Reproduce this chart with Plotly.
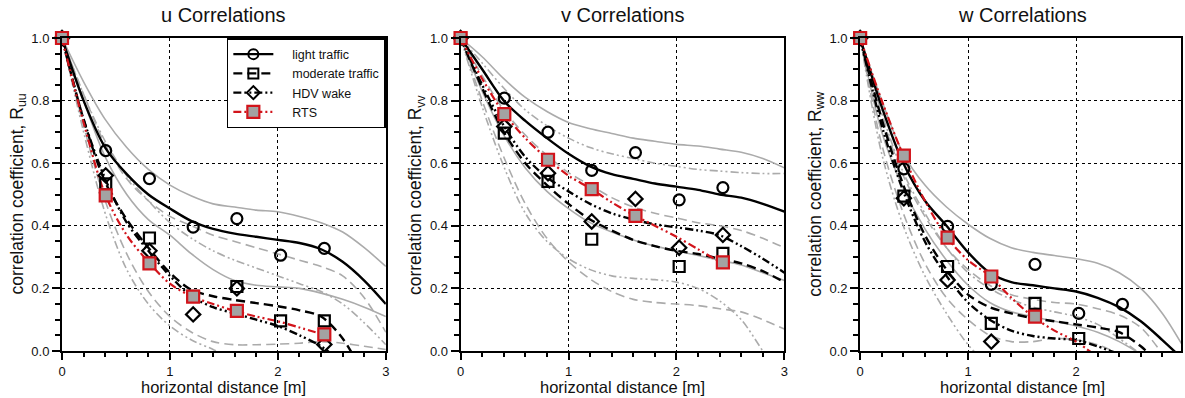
import plotly.graph_objects as go

# ---------------- data ----------------
x_fit = [0, 0.2, 0.4, 0.6, 0.8, 1.0, 1.2, 1.4, 1.6, 1.8, 2.0, 2.2, 2.4, 2.6, 2.8, 3.0]
x_pts = [0, 0.405, 0.81, 1.215, 1.62, 2.025, 2.43]

# u correlations
u_light_fit = [1.0, 0.80, 0.65, 0.565, 0.50, 0.455, 0.415, 0.39, 0.375, 0.365, 0.355, 0.345, 0.325, 0.285, 0.225, 0.15]
u_mod_fit = [1.0, 0.74, 0.54, 0.42, 0.33, 0.25, 0.195, 0.175, 0.163, 0.153, 0.143, 0.13, 0.11, 0.04, -0.08, None]
u_hdv_fit = [1.0, 0.74, 0.55, 0.41, 0.32, 0.24, 0.175, 0.14, 0.12, 0.10, 0.08, 0.05, 0.015, -0.04, None, None]
u_rts_fit = [1.0, 0.73, 0.50, 0.37, 0.285, 0.215, 0.175, 0.15, 0.128, 0.11, 0.095, 0.075, 0.055, None, None, None]
u_light_hi = [1.0, 0.86, 0.74, 0.65, 0.58, 0.53, 0.495, 0.47, 0.46, 0.45, 0.445, 0.43, 0.41, 0.38, 0.33, 0.27]
u_light_lo = [1.0, 0.80, 0.62, 0.50, 0.42, 0.37, 0.31, 0.26, 0.225, 0.21, 0.205, 0.20, 0.185, 0.165, 0.14, 0.11]
u_mod_hi = [1.0, 0.82, 0.66, 0.55, 0.48, 0.43, 0.40, 0.37, 0.35, 0.33, 0.31, 0.29, 0.27, 0.24, 0.17, 0.06]
u_mod_lo = [1.0, 0.72, 0.48, 0.31, 0.19, 0.11, 0.06, 0.03, 0.02, 0.02, 0.022, 0.025, 0.03, 0.025, 0.015, 0.005]
u_hdv_hi = [1.0, 0.82, 0.67, 0.56, 0.48, 0.41, 0.36, 0.32, 0.29, 0.265, 0.24, 0.215, 0.19, 0.15, 0.09, 0.02]
u_hdv_lo = [1.0, 0.70, 0.44, 0.26, 0.15, 0.08, 0.035, 0.005, -0.03, None, None, None, None, None, None, None]
u_light_pts = [1.0, 0.640, 0.551, 0.396, 0.423, 0.306, 0.328]
u_mod_pts = [1.0, 0.534, 0.361, 0.175, 0.206, 0.096, 0.096]
u_hdv_pts = [1.0, 0.561, 0.320, 0.117, 0.200, None, 0.021]
u_rts_pts = [1.0, 0.497, 0.280, 0.174, 0.128, None, 0.053]

# v correlations
v_light_fit = [1.0, 0.90, 0.80, 0.735, 0.68, 0.63, 0.59, 0.565, 0.55, 0.535, 0.525, 0.515, 0.50, 0.49, 0.47, 0.445]
v_mod_fit = [1.0, 0.84, 0.70, 0.60, 0.53, 0.47, 0.42, 0.385, 0.355, 0.335, 0.32, 0.31, 0.295, 0.28, 0.255, 0.22]
v_hdv_fit = [1.0, 0.85, 0.72, 0.62, 0.555, 0.51, 0.47, 0.44, 0.42, 0.405, 0.395, 0.385, 0.37, 0.335, 0.295, 0.25]
v_rts_fit = [1.0, 0.87, 0.76, 0.68, 0.615, 0.56, 0.52, 0.475, 0.435, 0.40, 0.365, 0.325, 0.285, None, None, None]
v_light_hi = [1.0, 0.94, 0.87, 0.81, 0.765, 0.73, 0.71, 0.695, 0.68, 0.67, 0.66, 0.655, 0.645, 0.635, 0.615, 0.585]
v_light_lo = [1.0, 0.83, 0.69, 0.585, 0.51, 0.455, 0.41, 0.38, 0.355, 0.335, 0.32, 0.305, 0.29, 0.275, 0.25, 0.225]
v_mod_hi = [1.0, 0.88, 0.77, 0.69, 0.625, 0.57, 0.53, 0.49, 0.46, 0.44, 0.425, 0.41, 0.40, 0.385, 0.36, 0.33]
v_mod_lo = [1.0, 0.80, 0.62, 0.47, 0.36, 0.285, 0.23, 0.19, 0.165, 0.155, 0.15, 0.145, 0.135, 0.125, 0.10, 0.07]
v_hdv_hi = [1.0, 0.92, 0.84, 0.77, 0.72, 0.68, 0.65, 0.63, 0.615, 0.60, 0.59, 0.58, 0.575, 0.57, 0.567, 0.567]
v_hdv_lo = [1.0, 0.78, 0.59, 0.44, 0.35, 0.295, 0.26, 0.24, 0.232, 0.228, 0.22, 0.20, 0.16, 0.10, 0.0, -0.1]
v_light_pts = [1.0, 0.808, 0.699, 0.577, 0.634, 0.483, 0.522]
v_mod_pts = [1.0, 0.696, 0.542, 0.357, None, 0.270, 0.312]
v_hdv_pts = [1.0, 0.717, 0.568, 0.414, 0.486, 0.330, 0.371]
v_rts_pts = [1.0, 0.757, 0.611, 0.517, 0.432, None, 0.283]

# w correlations
w_light_fit = [1.0, 0.78, 0.60, 0.48, 0.40, 0.315, 0.25, 0.22, 0.21, 0.20, 0.19, 0.17, 0.14, 0.095, 0.035, -0.03]
w_mod_fit = [1.0, 0.74, 0.53, 0.37, 0.26, 0.18, 0.14, 0.12, 0.105, 0.095, 0.085, 0.075, 0.06, 0.015, -0.05, None]
w_hdv_fit = [1.0, 0.72, 0.51, 0.35, 0.24, 0.155, 0.10, 0.065, 0.048, 0.04, 0.035, 0.015, -0.01, None, None, None]
w_rts_fit = [1.0, 0.80, 0.625, 0.48, 0.365, 0.29, 0.24, 0.17, 0.11, 0.065, 0.03, -0.02, None, None, None, None]
w_light_hi = [1.0, 0.80, 0.63, 0.53, 0.46, 0.405, 0.36, 0.33, 0.315, 0.305, 0.295, 0.28, 0.25, 0.20, 0.12, 0.01]
w_light_lo = [1.0, 0.70, 0.52, 0.39, 0.29, 0.21, 0.155, 0.125, 0.11, 0.095, 0.08, 0.06, 0.03, -0.01, None, None]
w_mod_hi = [1.0, 0.75, 0.56, 0.43, 0.33, 0.26, 0.21, 0.18, 0.165, 0.155, 0.15, 0.135, 0.115, 0.075, -0.01, None]
w_mod_lo = [1.0, 0.66, 0.44, 0.28, 0.17, 0.10, 0.05, 0.03, 0.03, 0.04, 0.035, 0.02, -0.01, None, None, None]
w_hdv_hi = [1.0, 0.76, 0.57, 0.44, 0.33, 0.25, 0.20, 0.165, 0.14, 0.125, 0.11, 0.085, 0.04, -0.01, None, None]
w_hdv_lo = [1.0, 0.63, 0.40, 0.24, 0.12, 0.02, -0.05, None, None, None, None, None, None, None, None, None]
w_light_pts = [1.0, 0.582, 0.398, 0.213, 0.277, 0.120, 0.149]
w_mod_pts = [1.0, 0.495, 0.270, 0.088, 0.152, 0.040, 0.060]
w_hdv_pts = [1.0, 0.488, 0.227, 0.030, None, None, None]
w_rts_pts = [1.0, 0.624, 0.362, 0.238, 0.110, None, None]

panel_titles = ["u Correlations", "v Correlations", "w Correlations"]
y_titles = ["correlation coefficient, R<sub>uu</sub>",
            "correlation coefficient, R<sub>vv</sub>",
            "correlation coefficient, R<sub>ww</sub>"]
x_title = "horizontal distance [m]"
legend_names = ["light traffic", "moderate traffic", "HDV wake", "RTS"]

# ---------------- styling ----------------
GRAY = "#ababab"
RED = "#d2141b"
DASH = "9px,5px"
DDD = "8px,3px,2px,3px,2px,3px"
styles = {
    "light": dict(dash="solid", symbol="circle-open"),
    "mod": dict(dash=DASH, symbol="square-open"),
    "hdv": dict(dash=DDD, symbol="diamond-open"),
}

panels = [
    dict(fits=dict(light=u_light_fit, mod=u_mod_fit, hdv=u_hdv_fit, rts=u_rts_fit),
         hi=dict(light=u_light_hi, mod=u_mod_hi, hdv=u_hdv_hi),
         lo=dict(light=u_light_lo, mod=u_mod_lo, hdv=u_hdv_lo),
         pts=dict(light=u_light_pts, mod=u_mod_pts, hdv=u_hdv_pts, rts=u_rts_pts)),
    dict(fits=dict(light=v_light_fit, mod=v_mod_fit, hdv=v_hdv_fit, rts=v_rts_fit),
         hi=dict(light=v_light_hi, mod=v_mod_hi, hdv=v_hdv_hi),
         lo=dict(light=v_light_lo, mod=v_mod_lo, hdv=v_hdv_lo),
         pts=dict(light=v_light_pts, mod=v_mod_pts, hdv=v_hdv_pts, rts=v_rts_pts)),
    dict(fits=dict(light=w_light_fit, mod=w_mod_fit, hdv=w_hdv_fit, rts=w_rts_fit),
         hi=dict(light=w_light_hi, mod=w_mod_hi, hdv=w_hdv_hi),
         lo=dict(light=w_light_lo, mod=w_mod_lo, hdv=w_hdv_lo),
         pts=dict(light=w_light_pts, mod=w_mod_pts, hdv=w_hdv_pts, rts=w_rts_pts)),
]

W, H = 1185, 398
ML, MR, MT, MB = 62, 0, 38, 47
PW = W - ML - MR
panel_px = [(62, 387), (462, 787), (863, 1185)]
domains = [[(a - ML) / PW, min(1.0, (b - ML) / PW)] for a, b in panel_px]
x_max = [3.0, 3.0, 3.0 * (1185 - 863) / 325.0]

fig = go.Figure()
FONT = "Liberation Sans, Arial, sans-serif"

for i, p in enumerate(panels):
    xa = "x" if i == 0 else f"x{i+1}"
    ya = "y" if i == 0 else f"y{i+1}"
    # gray confidence bounds
    for key in ["light", "mod", "hdv"]:
        for arr in (p["hi"][key], p["lo"][key]):
            fig.add_trace(go.Scatter(x=x_fit, y=arr, mode="lines", xaxis=xa, yaxis=ya,
                                     line=dict(color=GRAY, width=1.6, dash=styles[key]["dash"], shape="spline", smoothing=0.9),
                                     showlegend=False, hoverinfo="skip"))
    # black fits
    for key in ["light", "mod", "hdv"]:
        fig.add_trace(go.Scatter(x=x_fit, y=p["fits"][key], mode="lines", xaxis=xa, yaxis=ya,
                                 line=dict(color="black", width=2.4, dash=styles[key]["dash"], shape="spline", smoothing=0.9),
                                 showlegend=False))
    # red fit
    fig.add_trace(go.Scatter(x=x_fit, y=p["fits"]["rts"], mode="lines", xaxis=xa, yaxis=ya,
                             line=dict(color=RED, width=2.2, dash=DDD, shape="spline", smoothing=0.9),
                             showlegend=False))
    # black markers
    for key in ["light", "mod", "hdv"]:
        fig.add_trace(go.Scatter(x=x_pts, y=p["pts"][key], mode="markers", xaxis=xa, yaxis=ya,
                                 marker=dict(symbol=styles[key]["symbol"], size=11,
                                             color="black", line=dict(color="black", width=2.2)),
                                 cliponaxis=False, showlegend=False))
    # RTS markers
    fig.add_trace(go.Scatter(x=x_pts, y=p["pts"]["rts"], mode="markers", xaxis=xa, yaxis=ya,
                             marker=dict(symbol="square", size=12, color="#a3a3a3",
                                         line=dict(color=RED, width=2.2)),
                             cliponaxis=False, showlegend=False))

# legend entries
leg_specs = [
    dict(line=dict(color="black", width=2.4, dash="solid"), marker=dict(symbol="circle-open", size=10, color="black", line=dict(width=2, color="black"))),
    dict(line=dict(color="black", width=2.4, dash=DASH), marker=dict(symbol="square-open", size=10, color="black", line=dict(width=2, color="black"))),
    dict(line=dict(color="black", width=2.4, dash=DDD), marker=dict(symbol="diamond-open", size=10, color="black", line=dict(width=2, color="black"))),
    dict(line=dict(color=RED, width=2.2, dash=DDD), marker=dict(symbol="square", size=12, color="#a3a3a3", line=dict(width=2.2, color=RED))),
]
PAD = "\u00a0\u00a0\u00a0\u00a0"
for name, spec in zip(legend_names, leg_specs):
    fig.add_trace(go.Scatter(x=[None], y=[None], mode="lines+markers", name=PAD + name,
                             line=spec["line"], marker=spec["marker"], xaxis="x", yaxis="y"))

axis_common = dict(showline=True, linecolor="black", linewidth=2, mirror=True, zeroline=False,
                   showgrid=True, gridcolor="black", gridwidth=1, griddash="dot",
                   ticks="outside", tickcolor="black", tickwidth=1.5,
                   tickfont=dict(size=13, color="#111", family=FONT))

layout = dict(width=W, height=H, margin=dict(l=ML, r=MR, t=MT, b=MB),
              paper_bgcolor="white", plot_bgcolor="white",
              font=dict(family=FONT, color="#111"),
              showlegend=True,
              legend=dict(x=domains[0][1], xanchor="right", y=1.0, yanchor="top",
                          bgcolor="white", bordercolor="black", borderwidth=1.5,
                          font=dict(size=12.5, family=FONT, color="#111"),
                          tracegroupgap=0, itemwidth=40))
annotations = []
for i in range(3):
    xk = "xaxis" if i == 0 else f"xaxis{i+1}"
    yk = "yaxis" if i == 0 else f"yaxis{i+1}"
    ya = "y" if i == 0 else f"y{i+1}"
    xa = "x" if i == 0 else f"x{i+1}"
    layout[xk] = dict(axis_common, domain=domains[i], anchor=ya, range=[0, x_max[i]],
                      tick0=0, dtick=1, ticklen=7,
                      minor=dict(dtick=0.2, tick0=0, ticks="outside", ticklen=4, tickcolor="black", showgrid=False))
    layout[yk] = dict(axis_common, domain=[0, 1], anchor=xa, range=[0, 1],
                      tick0=0, dtick=0.2, tickformat=".1f", ticklen=8,
                      minor=dict(dtick=0.05, tick0=0, ticks="outside", ticklen=5, tickcolor="black", showgrid=False))
    full_w = 325.0 / PW
    cx = domains[i][0] + full_w / 2
    annotations.append(dict(text=panel_titles[i], x=cx, y=1, xref="paper", yref="paper",
                            xanchor="center", yanchor="middle", yshift=23, showarrow=False,
                            font=dict(size=20, family=FONT, color="#111")))
    annotations.append(dict(text=x_title, x=cx, y=0, xref="paper", yref="paper",
                            xanchor="center", yanchor="middle", yshift=-36, showarrow=False,
                            font=dict(size=16.5, family=FONT, color="#111")))
    annotations.append(dict(text=y_titles[i], x=domains[i][0], y=0.5, xref="paper", yref="paper",
                            xanchor="center", yanchor="middle", xshift=-44, textangle=-90, showarrow=False,
                            font=dict(size=17.5, family=FONT, color="#111")))
layout["annotations"] = annotations
fig.update_layout(**layout)

fig.write_html("out.html")
